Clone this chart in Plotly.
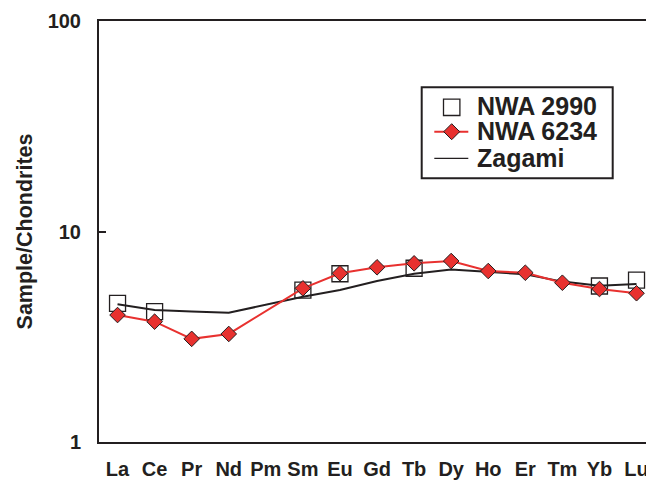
import plotly.graph_objects as go

# Rare earth element abundances normalised to chondrites
elements = ["La", "Ce", "Pr", "Nd", "Pm", "Sm", "Eu", "Gd", "Tb", "Dy",
            "Ho", "Er", "Tm", "Yb", "Lu"]

nwa_2990 = [4.56, 4.16, None, None, None, 5.27, 6.30, None, 6.69, None,
            None, None, None, 5.51, 5.88]
nwa_6234 = [4.01, 3.73, 3.09, 3.26, None, 5.37, 6.33, 6.76, 7.06, 7.24,
            6.49, 6.37, 5.71, 5.33, 5.09]
zagami = [4.51, 4.24, 4.17, 4.11, None, 4.90, 5.27, 5.82, 6.30, 6.60,
          6.45, 6.26, 5.78, 5.53, 5.63]

y_ticks = [1, 10, 100]
y_tick_text = ["1", "10", "100"]

DARK = "#231f20"
RED = "#e8312f"
FONT = "Liberation Sans, Arial, sans-serif"

W, H = 646, 480
ML, MR, MT, MB = 99, 0, 21, 38
PW, PH = W - ML - MR, H - MT - MB
STEP = 37.07  # pixels per element along x


def fx(px):
    return (px - ML) / PW


def fy(py):
    return (H - MB - py) / PH


xpos = list(range(len(elements)))

fig = go.Figure()

fig.add_trace(go.Scatter(
    x=xpos, y=nwa_2990, name="NWA 2990", mode="markers",
    marker=dict(symbol="square-open", size=16, color=DARK,
                line=dict(width=1.3, color=DARK)),
    showlegend=False,
))
fig.add_trace(go.Scatter(
    x=xpos, y=zagami, name="Zagami", mode="lines", connectgaps=True,
    line=dict(color=DARK, width=2),
    showlegend=False,
))
fig.add_trace(go.Scatter(
    x=xpos, y=nwa_6234, name="NWA 6234", mode="lines+markers",
    connectgaps=True,
    line=dict(color=RED, width=2),
    marker=dict(symbol="diamond", size=12, color=RED,
                line=dict(width=1, color=DARK)),
    showlegend=False,
))

# Legend key: framed box with symbol samples and labels
shapes = []
annotations = []
bx0, bx1, by0, by1 = 421.7, 612.7, 87.3, 178.3
shapes.append(dict(type="rect", xref="paper", yref="paper",
                   x0=fx(bx0), x1=fx(bx1), y0=fy(by1), y1=fy(by0),
                   line=dict(color=DARK, width=2), fillcolor="white",
                   layer="above"))
kx = 451.7
row_y = [107.3, 131.7, 158.3]
labels = ["NWA 2990", "NWA 6234", "Zagami"]
# open square
h = 8.2
shapes.append(dict(type="rect", xref="paper", yref="paper",
                   x0=fx(kx - h), x1=fx(kx + h),
                   y0=fy(row_y[0] + h), y1=fy(row_y[0] - h),
                   line=dict(color=DARK, width=1.3), layer="above"))
# red line with diamond
shapes.append(dict(type="line", xref="paper", yref="paper",
                   x0=fx(434.3), x1=fx(468.3),
                   y0=fy(row_y[1]), y1=fy(row_y[1]),
                   line=dict(color=RED, width=2), layer="above"))
d = 8.0
path = "M {a},{b} L {c},{e} L {f},{g} L {i},{j} Z".format(
    a=fx(kx - d), b=fy(row_y[1]),
    c=fx(kx), e=fy(row_y[1] - d),
    f=fx(kx + d), g=fy(row_y[1]),
    i=fx(kx), j=fy(row_y[1] + d))
shapes.append(dict(type="path", xref="paper", yref="paper", path=path,
                   fillcolor=RED, line=dict(color=DARK, width=1),
                   layer="above"))
# black line
shapes.append(dict(type="line", xref="paper", yref="paper",
                   x0=fx(434.3), x1=fx(468.3),
                   y0=fy(row_y[2]), y1=fy(row_y[2]),
                   line=dict(color=DARK, width=1.3), layer="above"))
text_y = [106.2, 130.8, 157.5]
for lab, ty in zip(labels, text_y):
    annotations.append(dict(text="<b>%s</b>" % lab, xref="paper",
                            yref="paper", x=fx(475), y=fy(ty),
                            xanchor="left", yanchor="middle",
                            showarrow=False,
                            font=dict(family=FONT, size=25, color=DARK)))

fig.update_layout(
    width=W, height=H,
    margin=dict(l=ML, r=MR, t=MT, b=MB, pad=0),
    paper_bgcolor="white", plot_bgcolor="white",
    font=dict(family=FONT, color=DARK),
    shapes=shapes, annotations=annotations,
    showlegend=False,
)

fig.update_xaxes(
    range=[-0.5, -0.5 + PW / STEP],
    tickmode="array", tickvals=xpos,
    ticktext=["<b>%s</b>" % e for e in elements],
    tickfont=dict(family=FONT, size=20, color=DARK),
    ticks="", showgrid=False, zeroline=False,
    showline=True, linecolor=DARK, linewidth=2, mirror=True,
    ticklabelstandoff=8, ticklabeloverflow="allow", automargin=False,
)
fig.update_yaxes(
    type="log", range=[0, 2],
    tickmode="array", tickvals=y_ticks,
    ticktext=["<b>%s</b>" % t for t in y_tick_text],
    tickfont=dict(family=FONT, size=20, color=DARK),
    ticks="inside", ticklen=7, tickwidth=2, tickcolor=DARK,
    showgrid=False, zeroline=False,
    showline=True, linecolor=DARK, linewidth=2, mirror=False,
    ticklabelstandoff=12, automargin=False,
    title=dict(text="<b>Sample/Chondrites</b>", standoff=9,
               font=dict(family=FONT, size=21.5, color=DARK)),
)

fig.write_html("out.html")
